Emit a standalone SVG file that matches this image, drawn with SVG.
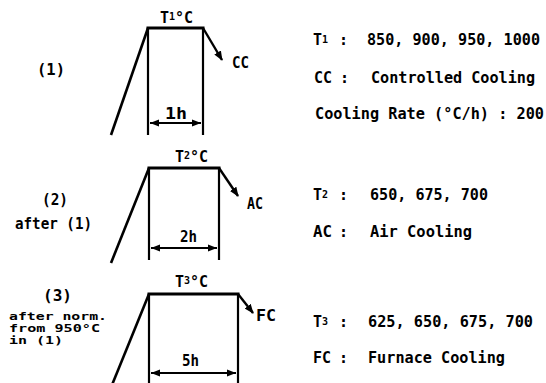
<svg xmlns="http://www.w3.org/2000/svg" width="546" height="383" viewBox="0 0 546 383">
<defs>
<style>
.t{font-family:"DejaVu Sans Mono","Liberation Mono",monospace;font-weight:bold;fill:#000;}
.r{font-size:15px;}
.g{font-size:15px;}
.s{font-size:10px;}
.sub{font-size:10px;}
.top{stroke:#000;stroke-width:3;fill:none;stroke-linecap:square;}
.v{stroke:#000;stroke-width:2.2;fill:none;}
.ramp{stroke:#000;stroke-width:2.6;fill:none;}
.cool{stroke:#000;stroke-width:2.4;fill:none;}
.dim{stroke:#000;stroke-width:1.8;fill:none;}
</style>
<marker id="ah" viewBox="0 0 10 10" refX="9" refY="5" markerWidth="4" markerHeight="4" orient="auto">
<path d="M0,1 L10,5 L0,9 z" fill="#000"/>
</marker>
<marker id="dh" viewBox="0 0 10 10" refX="10" refY="5" markerWidth="5" markerHeight="5" orient="auto-start-reverse">
<path d="M0,1 L10,5 L0,9 z" fill="#000"/>
</marker>
</defs>
<rect width="546" height="383" fill="#fff"/>

<g id="connectors">
<!-- diagram 1 -->
<line class="ramp" x1="148" y1="28" x2="111" y2="135"/>
<line class="top" x1="148" y1="28" x2="203" y2="28"/>
<line class="v" x1="148" y1="28" x2="148" y2="135"/>
<line class="v" x1="203" y1="28" x2="203" y2="135"/>
<line class="cool" x1="203" y1="28" x2="222" y2="60" marker-end="url(#ah)"/>
<line class="dim" x1="150" y1="123" x2="201" y2="123" marker-start="url(#dh)" marker-end="url(#dh)"/>
<!-- diagram 2 -->
<line class="ramp" x1="149" y1="168" x2="111" y2="263"/>
<line class="top" x1="149" y1="168" x2="219" y2="168"/>
<line class="v" x1="149" y1="168" x2="149" y2="260"/>
<line class="v" x1="219" y1="168" x2="219" y2="260"/>
<line class="cool" x1="219" y1="168" x2="238" y2="196" marker-end="url(#ah)"/>
<line class="dim" x1="151" y1="248" x2="217" y2="248" marker-start="url(#dh)" marker-end="url(#dh)"/>
<!-- diagram 3 -->
<line class="ramp" x1="149" y1="294" x2="112" y2="385"/>
<line class="top" x1="149" y1="294" x2="238" y2="294"/>
<line class="v" x1="149" y1="294" x2="149" y2="385"/>
<line class="v" x1="238" y1="294" x2="238" y2="385"/>
<line class="cool" x1="238" y1="294" x2="253" y2="313" marker-end="url(#ah)"/>
<line class="dim" x1="151" y1="373" x2="236" y2="373" marker-start="url(#dh)" marker-end="url(#dh)"/>
</g>

<g id="n1">
<text class="t g" x="37" y="75" textLength="28" lengthAdjust="spacingAndGlyphs">(1)</text>
<text class="t g" x="160" y="23">T<tspan class="sub" dy="-3">1</tspan><tspan dy="3">°C</tspan></text>
<text class="t g" x="232" y="68" textLength="17" lengthAdjust="spacingAndGlyphs">CC</text>
<text class="t g" x="165" y="119" textLength="22" lengthAdjust="spacingAndGlyphs">1h</text>
</g>

<g id="n2">
<text class="t g" x="42" y="205" textLength="26" lengthAdjust="spacingAndGlyphs">(2)</text>
<text class="t g" x="15" y="229" textLength="77" lengthAdjust="spacingAndGlyphs">after (1)</text>
<text class="t g" x="175" y="162">T<tspan class="sub" dy="-3">2</tspan><tspan dy="3">°C</tspan></text>
<text class="t g" x="247" y="209" textLength="16" lengthAdjust="spacingAndGlyphs">AC</text>
<text class="t g" x="180" y="242" textLength="17" lengthAdjust="spacingAndGlyphs">2h</text>
</g>

<g id="n3">
<text class="t g" x="43" y="301" textLength="29" lengthAdjust="spacingAndGlyphs">(3)</text>
<text class="t s" x="9" y="320" textLength="98" lengthAdjust="spacingAndGlyphs">after norm.</text>
<text class="t s" x="9" y="332" textLength="91" lengthAdjust="spacingAndGlyphs">from 950°C</text>
<text class="t s" x="9" y="344" textLength="54" lengthAdjust="spacingAndGlyphs">in (1)</text>
<text class="t g" x="175" y="287">T<tspan class="sub" dy="-3">3</tspan><tspan dy="3">°C</tspan></text>
<text class="t g" x="256" y="321" textLength="20" lengthAdjust="spacingAndGlyphs">FC</text>
<text class="t g" x="182" y="366" textLength="17" lengthAdjust="spacingAndGlyphs">5h</text>
</g>

<g id="legend1">
<g transform="translate(0,45) scale(1,1.1)">
<text class="t r" x="313" y="0">T<tspan class="sub" dy="-2">1</tspan></text>
<text class="t r" x="339" y="0">:</text>
<text class="t r" x="367" y="0" textLength="173" lengthAdjust="spacingAndGlyphs">850, 900, 950, 1000</text>
</g>
<g transform="translate(0,83) scale(1,1.1)">
<text class="t r" x="314" y="0" textLength="18" lengthAdjust="spacingAndGlyphs">CC</text>
<text class="t r" x="340" y="0">:</text>
<text class="t r" x="371" y="0" textLength="164" lengthAdjust="spacingAndGlyphs">Controlled Cooling</text>
</g>
<g transform="translate(0,119) scale(1,1.1)">
<text class="t r" x="315" y="0" textLength="229" lengthAdjust="spacingAndGlyphs">Cooling Rate (°C/h) : 200</text>
</g>
</g>

<g id="legend2">
<g transform="translate(0,200) scale(1,1.1)">
<text class="t r" x="313" y="0">T<tspan class="sub" dy="-2">2</tspan></text>
<text class="t r" x="339" y="0">:</text>
<text class="t r" x="370" y="0" textLength="118" lengthAdjust="spacingAndGlyphs">650, 675, 700</text>
</g>
<g transform="translate(0,237) scale(1,1.1)">
<text class="t r" x="313" y="0" textLength="19" lengthAdjust="spacingAndGlyphs">AC</text>
<text class="t r" x="339" y="0">:</text>
<text class="t r" x="370" y="0" textLength="102" lengthAdjust="spacingAndGlyphs">Air Cooling</text>
</g>
</g>

<g id="legend3">
<g transform="translate(0,327) scale(1,1.1)">
<text class="t r" x="313" y="0">T<tspan class="sub" dy="-2">3</tspan></text>
<text class="t r" x="339" y="0">:</text>
<text class="t r" x="368" y="0" textLength="165" lengthAdjust="spacingAndGlyphs">625, 650, 675, 700</text>
</g>
<g transform="translate(0,363) scale(1,1.1)">
<text class="t r" x="313" y="0" textLength="18" lengthAdjust="spacingAndGlyphs">FC</text>
<text class="t r" x="339" y="0">:</text>
<text class="t r" x="368" y="0" textLength="137" lengthAdjust="spacingAndGlyphs">Furnace Cooling</text>
</g>
</g>
</svg>
